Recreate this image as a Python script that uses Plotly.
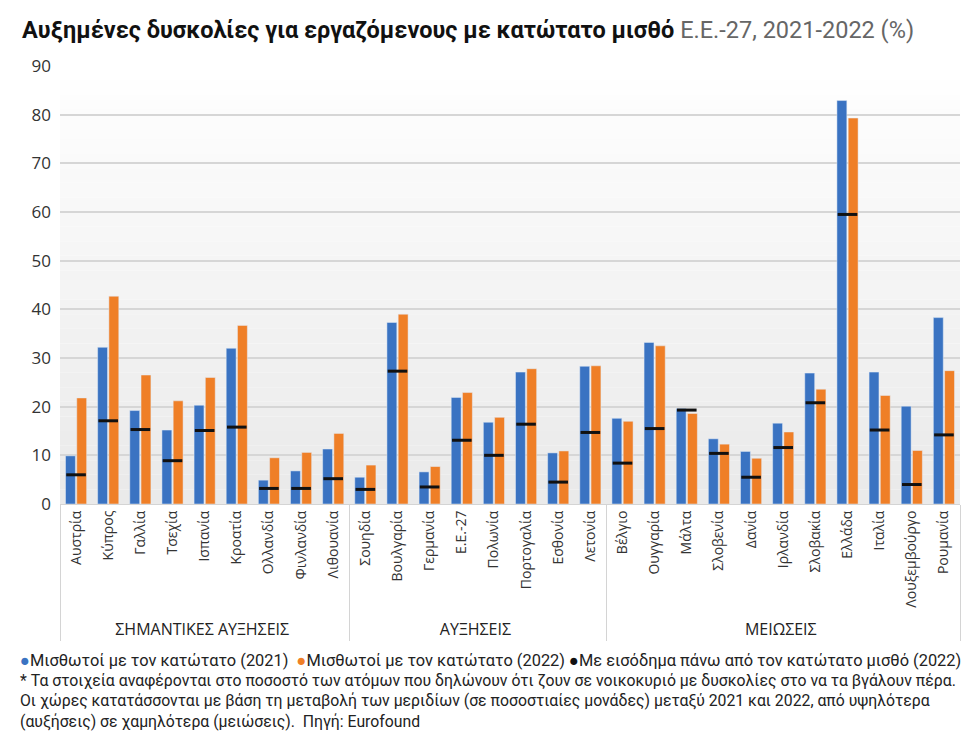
import plotly.graph_objects as go

group_names = ["ΣΗΜΑΝΤΙΚΕΣ ΑΥΞΗΣΕΙΣ", "ΑΥΞΗΣΕΙΣ", "ΜΕΙΩΣΕΙΣ"]
group_sizes = [9, 8, 11]
countries = ["Αυστρία", "Κύπρος", "Γαλλία", "Τσεχία", "Ισπανία", "Κροατία", "Ολλανδία", "Φινλανδία", "Λιθουανία",
             "Σουηδία", "Βουλγαρία", "Γερμανία", "Ε.Ε.-27", "Πολωνία", "Πορτογαλία", "Εσθονία", "Λετονία",
             "Βέλγιο", "Ουγγαρία", "Μάλτα", "Σλοβενία", "Δανία", "Ιρλανδία", "Σλοβακία", "Ελλάδα", "Ιταλία",
             "Λουξεμβούργο", "Ρουμανία"]
min_wage_2021 = [9.9, 32.2, 19.2, 15.2, 20.3, 32.0, 4.9, 6.8, 11.3,
                 5.5, 37.3, 6.6, 21.9, 16.8, 27.1, 10.5, 28.3,
                 17.6, 33.2, 19.6, 13.4, 10.8, 16.6, 26.9, 82.9, 27.1, 20.1, 38.3]
min_wage_2022 = [21.8, 42.7, 26.5, 21.2, 26.0, 36.7, 9.5, 10.6, 14.5,
                 8.0, 39.0, 7.7, 22.9, 17.8, 27.8, 10.9, 28.4,
                 17.0, 32.5, 18.6, 12.3, 9.4, 14.8, 23.6, 79.3, 22.3, 11.0, 27.4]
above_min_2022 = [6.0, 17.1, 15.3, 8.9, 15.1, 15.8, 3.2, 3.2, 5.2,
                  3.0, 27.3, 3.5, 13.1, 10.0, 16.4, 4.5, 14.7,
                  8.4, 15.5, 19.3, 10.4, 5.5, 11.6, 20.8, 59.5, 15.2, 4.0, 14.2]

BLUE = "#3a73c2"
ORANGE = "#ef7f27"
NARROW = "Roboto"

groups = []
for name, k in zip(group_names, group_sizes):
    groups += [f"<span style='font-size:16px;color:#222'>{name}</span>"] * k
x = [groups, countries]

fig = go.Figure()
fig.add_trace(go.Bar(x=x, y=min_wage_2021, marker_color=BLUE, showlegend=False))
fig.add_trace(go.Bar(x=x, y=min_wage_2022, marker_color=ORANGE, showlegend=False))
fig.add_trace(go.Scatter(x=x, y=above_min_2022, mode="markers", showlegend=False,
                         marker=dict(symbol="line-ew", size=14, line=dict(width=3, color="#111111"))))

# gradient background bands for plot area
n = 30
for i in range(n):
    c = int(255 - (255 - 234) * (i / (n - 1)))
    fig.add_shape(type="rect", xref="paper", yref="paper", x0=0, x1=1,
                  y0=1 - (i + 1) / n, y1=1 - i / n, layer="below",
                  line=dict(width=0), fillcolor=f"rgb({c},{c},{c})")

H0 = 504.0
PH = 438.0


def py(pix):
    return (H0 - pix) / PH


fig.update_layout(
    width=980, height=744,
    margin=dict(l=60, r=20, t=66, b=240),
    paper_bgcolor="white", plot_bgcolor="rgba(0,0,0,0)",
    barmode="group", bargap=0.3, bargroupgap=0.12,
    font=dict(family="Open Sans", color="#333333"),
    xaxis=dict(type="multicategory", tickangle=-90, tickfont=dict(size=14, family="Open Sans", color="#333"),
               range=[-0.5, len(countries) - 0.5], autorange=False,
               showdividers=True, dividercolor="#d4d4d4", dividerwidth=1,
               showline=True, linecolor="#d4d4d4", ticks=""),
    yaxis=dict(range=[0, 90], dtick=10, gridcolor="#d6d6d6", gridwidth=1.5, zeroline=False,
               tickfont=dict(size=17, family="Open Sans", color="#333"), ticklabelstandoff=8),
)

fig.add_annotation(xref="paper", yref="paper", x=-40 / 900, y=py(30), xanchor="left", yanchor="middle",
                   showarrow=False, font=dict(family=NARROW, size=23.5, color="#111"),
                   text="<b>Αυξημένες δυσκολίες για εργαζόμενους με κατώτατο μισθό</b>"
                        " <span style='color:#666666'>Ε.Ε.-27, 2021-2022 (%)</span>")
fig.add_annotation(xref="paper", yref="paper", x=-42 / 900, y=py(660), xanchor="left", yanchor="middle",
                   showarrow=False, font=dict(family=NARROW, size=16.4, color="#222"),
                   text=f"<span style='color:{BLUE}'>●</span>Μισθωτοί με τον κατώτατο (2021)  "
                        f"<span style='color:{ORANGE}'>●</span>Μισθωτοί με τον κατώτατο (2022) "
                        "<span style='color:#111'>●</span>Με εισόδημα πάνω από τον κατώτατο μισθό (2022)")
foot = ["* Τα στοιχεία αναφέρονται στο ποσοστό των ατόμων που δηλώνουν ότι ζουν σε νοικοκυριό με δυσκολίες στο να τα βγάλουν πέρα.",
        "Οι χώρες κατατάσσονται με βάση τη μεταβολή των μεριδίων (σε ποσοστιαίες μονάδες) μεταξύ 2021 και 2022, από υψηλότερα",
        "(αυξήσεις) σε χαμηλότερα (μειώσεις).  Πηγή: Eurofound"]
for i, line in enumerate(foot):
    fig.add_annotation(xref="paper", yref="paper", x=-42 / 900, y=py(680 + 20.5 * i), xanchor="left",
                       yanchor="middle", showarrow=False, font=dict(family=NARROW, size=15.8, color="#222"),
                       text=line)

fig.write_html("out.html")
